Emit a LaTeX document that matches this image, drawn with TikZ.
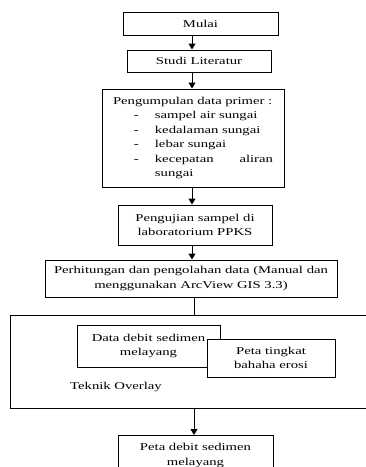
\documentclass[tikz,border=0pt]{standalone}
\usepackage{fontspec}
\setmainfont{Liberation Serif}[FakeStretch=1.4]
\usetikzlibrary{arrows.meta}
\begin{document}
\begin{tikzpicture}[x=1pt, y=-1pt, line width=1pt,
    every node/.style={font=\fontsize{10.5}{14.5}\selectfont, align=center, inner sep=2pt},
    box/.style={draw, fill=white, rectangle},
    flow/.style={-{Triangle[length=6pt, width=7pt]}}]
    \useasboundingbox (0,0) rectangle (366,467);
    \clip (0,0) rectangle (366,467);
    \fill[white] (0,0) rectangle (366,467);
    % Main steps
    \node[box, minimum width=155pt, minimum height=23pt] (mulai) at (200.5,23.5) {Mulai};
    \node[box, minimum width=144pt, minimum height=22pt] (studi) at (199,61) {Studi Literatur};
    \node[box, minimum width=182pt, minimum height=98pt, text width=160pt, align=left] (kumpul) at (193,138)
        {Pengumpulan data primer :\\
         \hspace*{21pt}-\hspace{16pt}sampel air sungai\\
         \hspace*{21pt}-\hspace{16pt}kedalaman sungai\\
         \hspace*{21pt}-\hspace{16pt}lebar sungai\\
         \hspace*{21pt}-\hspace{16pt}kecepatan\hfill aliran\\
         \hspace*{42pt}sungai};
    \node[box, minimum width=154pt, minimum height=40pt] (uji) at (195,225)
        {Pengujian sampel di\\laboratorium PPKS};
    \node[box, minimum width=292pt, minimum height=37pt] (hitung) at (191,278.5)
        {Perhitungan dan pengolahan data (Manual dan\\menggunakan ArcView GIS 3.3)};
    % Overlay frame
    \node[box, minimum width=380pt, minimum height=93pt, anchor=north west] (overlay) at (10,315) {};
    \node[box, minimum width=143pt, minimum height=42pt] (debit) at (148.5,346) {Data debit sedimen\\melayang};
    \node[box, minimum width=128pt, minimum height=38pt] (erosi) at (271,358) {Peta tingkat\\bahaha erosi};
    \node (teknik) at (116,387) {Teknik Overlay};
    % Result
    \node[box, minimum width=155pt, minimum height=40pt, anchor=north] (peta) at (195.5,435)
        {Peta debit sedimen\\melayang};
    % Connectors
    \draw[flow] (mulai.south -| 192,0) -- (studi.north -| 192,0);
    \draw[flow] (studi.south -| 192,0) -- (kumpul.north -| 192,0);
    \draw[flow] (kumpul.south -| 192,0) -- (uji.north -| 192,0);
    \draw[flow] (uji.south -| 192,0) -- (hitung.north -| 192,0);
    \draw (hitung.south -| 194,0) -- (overlay.north -| 194,0);
    \draw[flow] (overlay.south -| 194,0) -- (peta.north -| 194,0);
\end{tikzpicture}
\end{document}
